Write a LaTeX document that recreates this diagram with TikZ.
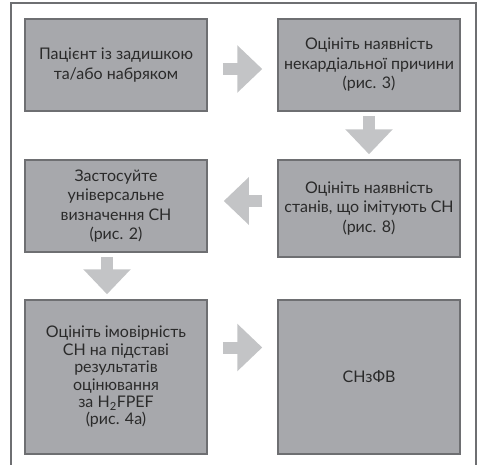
\documentclass[tikz,border=0pt]{standalone}
\usepackage{fontspec}
\setmainfont{Lato}
\usetikzlibrary{arrows.meta}
\definecolor{boxgray}{HTML}{A7A8AC}
\definecolor{edgegray}{HTML}{6E6F72}
\definecolor{arrowgray}{HTML}{C3C4C6}
\definecolor{textgray}{HTML}{2A2A2A}
\tikzset{
  box/.style={draw=edgegray, line width=1.5pt, fill=boxgray, text=textgray,
    minimum width=182pt, align=center, inner sep=2pt,
    font=\fontsize{16}{19.5}\selectfont},
  flow/.style={arrowgray, line width=12pt, -{Triangle[width=46pt,length=25pt]}}
}
\begin{document}
\begin{tikzpicture}[x=1pt,y=-1pt]
        \useasboundingbox (0,0) rectangle (481,464);
        % frame
        \draw[edgegray, line width=1.5pt] (11,470) |- (476,3) -- (476,470);
        % steps
        \node[box, minimum height=92pt] (b1) at (116,65) {Пацієнт із задишкою\\та/або набряком};
        \node[box, minimum height=92pt] (b2) at (369,65) {Оцініть наявність\\некардіальної причини\\(рис. 3)};
        \node[box, minimum height=92pt] (b3) at (116,206) {Застосуйте\\універсальне\\визначення СН\\(рис. 2)};
        \node[box, minimum height=97pt] (b4) at (369,208.5) {Оцініть наявність\\станів, що імітують СН\\(рис. 8)};
        \node[box, minimum height=154pt, font=\fontsize{16}{17.4}\selectfont] (b5) at (116,377) {Оцініть імовірність\\СН на підставі\\результатів\\оцінювання\\за H\textsubscript{2}FPEF\\(рис. 4а)};
        \node[box, minimum height=154pt] (b6) at (369,377) {СНзФВ};
        % arrows
        \draw[flow, shorten <=15pt, shorten >=15pt] ([yshift=-4]b1.east) -- ([yshift=-4]b2.west);
        \draw[flow, shorten <=4pt, shorten >=5pt] (b2.south) -- (b4.north);
        \draw[flow, shorten <=15pt, shorten >=16pt] ([yshift=5]b3.east -| b4.west) -- ([yshift=5]b3.east);
        \draw[flow, shorten <=4pt, shorten >=5pt] ([xshift=-9]b3.south) -- ([xshift=-9]b5.north);
        \draw[flow, shorten <=15pt, shorten >=15pt] ([yshift=29.5]b5.east) -- ([yshift=29.5]b6.west);
    \end{tikzpicture}
\end{document}
